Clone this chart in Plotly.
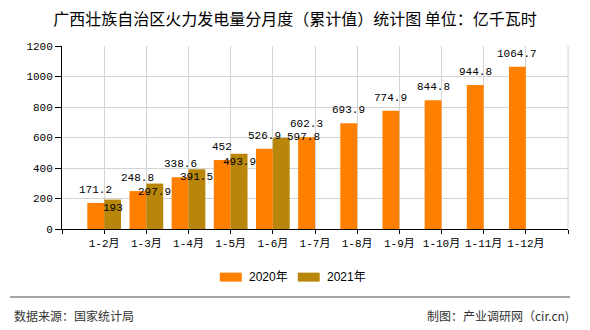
import plotly.graph_objects as go

# Cumulative thermal power generation, Guangxi (100 million kWh)
categories = ["1-2月", "1-3月", "1-4月", "1-5月", "1-6月", "1-7月",
              "1-8月", "1-9月", "1-10月", "1-11月", "1-12月"]
values_2020 = [171.2, 248.8, 338.6, 452, 526.9, 602.3, 693.9, 774.9, 844.8, 944.8, 1064.7]
values_2021 = [193, 297.9, 391.5, 493.9, 597.8]
series_names = ["2020年", "2021年"]
y_ticks = [0, 200, 400, 600, 800, 1000, 1200]

COLOR_2020 = "#FF8000"
COLOR_2021 = "#B8860B"
GRID = "#d4d4d4"
LABEL_FONT = dict(family="Liberation Mono, DejaVu Sans Mono, monospace", size=11, color="#000")
TICK_FONT = dict(family="Liberation Mono, Noto Sans CJK SC, monospace", size=11, color="#000")
CJK = "Noto Sans CJK SC, sans-serif"

n = len(categories)
x_idx = list(range(n))
bar_width = 0.4

fig = go.Figure()
fig.add_trace(go.Bar(
    x=x_idx, y=values_2020, name=series_names[0], marker_color=COLOR_2020,
    width=bar_width, offset=-bar_width, marker_line_width=0, showlegend=False,
))
fig.add_trace(go.Bar(
    x=x_idx[:len(values_2021)], y=values_2021, name=series_names[1], marker_color=COLOR_2021,
    width=bar_width, offset=0, marker_line_width=0, showlegend=False,
))

annotations = []
# 2020 labels sit just above the bar tops
for i, v in enumerate(values_2020):
    annotations.append(dict(
        x=i - bar_width / 2, y=v, xref="x", yref="y", text=f"{v:g}",
        showarrow=False, yanchor="middle", yshift=13, font=LABEL_FONT,
    ))
# 2021 labels sit just below the bar tops; one is nudged clear of its neighbour
nudges = {4: (22, 9)}
for i, v in enumerate(values_2021):
    dx, dy = nudges.get(i, (0, 0))
    annotations.append(dict(
        x=i + bar_width / 2, y=v, xref="x", yref="y", text=f"{v:g}",
        showarrow=False, yanchor="middle", yshift=-8 + dy, xshift=dx, font=LABEL_FONT,
    ))

shapes = []
# right-hand frame line of the grid
shapes.append(dict(
    type="line", xref="paper", yref="paper", x0=1, x1=1, y0=0, y1=1,
    line=dict(color=GRID, width=1),
))

# legend drawn as wide swatches with text beside them
legend_items = [(series_names[0], COLOR_2020, 0.3119), (series_names[1], COLOR_2021, 0.4659)]
swatch_w = 0.0434
for name, color, x0 in legend_items:
    shapes.append(dict(
        type="rect", xref="paper", yref="paper",
        x0=x0, x1=x0 + swatch_w, y0=-0.2875, y1=-0.2384,
        fillcolor=color, line=dict(width=0),
    ))
    annotations.append(dict(
        x=x0 + swatch_w + 0.0099, y=-0.263, xref="paper", yref="paper", text=name,
        showarrow=False, xanchor="left", yanchor="middle",
        font=dict(family="Liberation Sans, Arial, Noto Sans CJK SC", size=12, color="#000"),
    ))

# footer separator and texts
shapes.append(dict(
    type="line", xref="paper", yref="paper",
    x0=-0.1028, x1=1.004, y0=-0.372, y1=-0.372,
    line=dict(color="#888", width=1.5),
))
annotations.append(dict(
    x=-0.0988, y=-0.473, xref="paper", yref="paper", text="数据来源：国家统计局",
    showarrow=False, xanchor="left", yanchor="middle",
    font=dict(family=CJK, size=12, color="#333"),
))
annotations.append(dict(
    x=1.006, y=-0.473, xref="paper", yref="paper", text="制图：产业调研网（cir.cn)",
    showarrow=False, xanchor="right", yanchor="middle",
    font=dict(family=CJK, size=12, color="#333"),
))

fig.update_layout(
    width=590, height=330,
    margin=dict(l=62, r=22, t=46, b=101),
    paper_bgcolor="white", plot_bgcolor="white",
    title=dict(
        text="广西壮族自治区火力发电量分月度（累计值）统计图 单位：亿千瓦时",
        x=0.5, xanchor="center", y=1 - 19 / 330, yanchor="middle",
        font=dict(family=CJK, size=16, color="#000"),
    ),
    barmode="overlay",
    showlegend=False,
    annotations=annotations,
    shapes=shapes,
)

fig.update_xaxes(
    range=[-1, 11],
    tickmode="array",
    tickvals=list(range(-1, n + 1)),
    ticktext=[""] + categories + [""],
    showgrid=True, gridcolor=GRID, gridwidth=1,
    showline=True, linecolor="#000", linewidth=1,
    ticks="outside", ticklen=4, tickcolor="#000",
    tickfont=TICK_FONT, zeroline=False, fixedrange=True,
)
fig.update_yaxes(
    range=[0, 1200],
    tickmode="array", tickvals=y_ticks,
    showgrid=True, gridcolor=GRID, gridwidth=1,
    showline=True, linecolor="#000", linewidth=1,
    ticks="outside", ticklen=6, tickcolor="#000",
    tickfont=TICK_FONT, zeroline=False, fixedrange=True,
)

fig.write_html("out.html")
